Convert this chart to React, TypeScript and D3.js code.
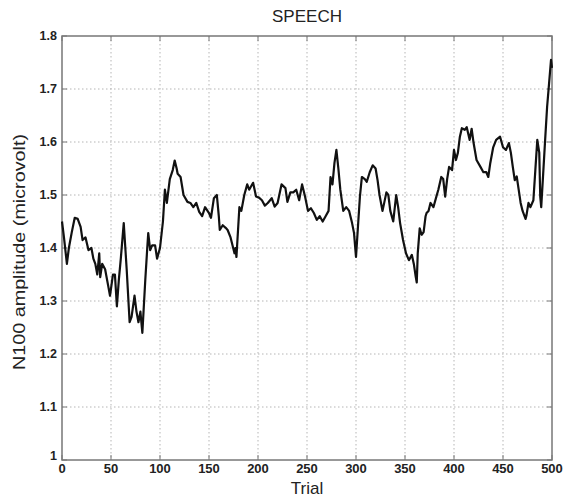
import React from "react";
import * as d3 from "d3";

const trials = [0,2,5,7,10,13,16,19,21,24,27,30,32,34,36,38,39,41,44,47,49,52,54,56,58,60,63,66,69,71,74,76,78,80,82,85,87,88,90,92,95,97,100,103,105,107,110,113,115,117,118,121,124,128,131,134,137,140,143,146,150,152,155,158,160,161,164,167,169,172,176,177,178,181,183,186,189,191,195,198,201,204,207,210,214,217,220,224,228,230,233,236,239,242,245,248,251,254,257,260,263,266,269,272,274,276,278,280,282,284,287,290,293,296,298,300,302,304,306,309,311,314,317,320,322,324,327,329,331,333,335,338,341,343,345,348,351,354,357,359,361,362,363,365,367,369,371,372,374,376,379,382,384,387,389,391,393,395,398,400,402,404,406,408,411,413,416,418,420,423,427,430,433,435,437,440,443,447,450,453,456,458,460,462,464,466,468,470,473,474,476,478,481,483,485,487,488,489,491,493,495,497,499,500];
const values = [1.45,1.42,1.37,1.40,1.43,1.457,1.455,1.44,1.415,1.42,1.396,1.40,1.38,1.37,1.35,1.39,1.345,1.37,1.36,1.33,1.31,1.35,1.35,1.29,1.34,1.38,1.447,1.36,1.26,1.27,1.31,1.28,1.26,1.28,1.24,1.34,1.40,1.428,1.396,1.405,1.405,1.38,1.40,1.45,1.51,1.485,1.53,1.547,1.565,1.55,1.54,1.534,1.50,1.487,1.485,1.477,1.485,1.468,1.46,1.477,1.466,1.457,1.494,1.50,1.46,1.434,1.443,1.438,1.434,1.42,1.39,1.40,1.383,1.477,1.47,1.50,1.52,1.51,1.523,1.497,1.495,1.49,1.48,1.485,1.494,1.478,1.485,1.52,1.513,1.487,1.505,1.505,1.51,1.49,1.52,1.497,1.47,1.475,1.466,1.453,1.46,1.45,1.46,1.47,1.534,1.52,1.56,1.585,1.55,1.51,1.47,1.477,1.47,1.447,1.428,1.383,1.44,1.497,1.534,1.53,1.525,1.543,1.556,1.55,1.528,1.50,1.47,1.487,1.505,1.50,1.47,1.45,1.50,1.477,1.447,1.415,1.39,1.377,1.387,1.37,1.345,1.335,1.39,1.437,1.425,1.43,1.46,1.466,1.47,1.485,1.477,1.497,1.51,1.534,1.53,1.497,1.53,1.553,1.547,1.585,1.566,1.58,1.61,1.626,1.623,1.628,1.604,1.625,1.598,1.566,1.553,1.543,1.543,1.534,1.56,1.59,1.604,1.61,1.59,1.585,1.598,1.58,1.553,1.528,1.535,1.51,1.485,1.47,1.455,1.462,1.485,1.477,1.49,1.547,1.604,1.58,1.497,1.477,1.54,1.604,1.666,1.71,1.755,1.74];
const xTicks = [0,50,100,150,200,250,300,350,400,450,500];
const yTicks = [1,1.1,1.2,1.3,1.4,1.5,1.6,1.7,1.8];

export default function App() {
  const W = 565, H = 498;
  const left = 62, right = 552, top = 36, bottom = 460;
  const x = d3.scaleLinear().domain([0, 500]).range([left, right]);
  const y = d3.scaleLinear().domain([1, 1.8]).range([bottom, top]);
  const pts = trials.map((t, i) => [t, values[i]] as [number, number]);
  const line = d3.line<[number, number]>().x(d => x(d[0])).y(d => y(d[1]));
  const font = "'Liberation Sans', Arial, sans-serif";
  return (
    <svg width={W} height={H} style={{ position: "absolute", left: 0, top: 0, background: "#fff" }}>
      <rect x={0} y={0} width={W} height={H} fill="#fff" />
      {xTicks.slice(1, -1).map(t => (
        <line key={"gx" + t} x1={x(t)} x2={x(t)} y1={top} y2={bottom} stroke="#b5b5b5" strokeWidth={1} strokeDasharray="1.5,2.5" />
      ))}
      {yTicks.slice(1, -1).map(t => (
        <line key={"gy" + t} x1={left} x2={right} y1={y(t)} y2={y(t)} stroke="#b5b5b5" strokeWidth={1} strokeDasharray="1.5,2.5" />
      ))}
      {xTicks.map(t => (
        <g key={"tx" + t}>
          <line x1={x(t)} x2={x(t)} y1={bottom} y2={bottom - 5} stroke="#777" />
          <line x1={x(t)} x2={x(t)} y1={top} y2={top + 5} stroke="#777" />
          <text x={x(t)} y={bottom + 13} textAnchor="middle" fontFamily={font} fontSize={13} fontWeight="bold" fill="#222">{t}</text>
        </g>
      ))}
      {yTicks.map(t => (
        <g key={"ty" + t}>
          <line x1={left} x2={left + 5} y1={y(t)} y2={y(t)} stroke="#777" />
          <line x1={right} x2={right - 5} y1={y(t)} y2={y(t)} stroke="#777" />
          <text x={left - 5} y={y(t) + (t === 1 ? 0 : 4)} textAnchor="end" fontFamily={font} fontSize={12.5} fontWeight="bold" fill="#222">{d3.format("")(+t.toFixed(1))}</text>
        </g>
      ))}
      <rect x={left} y={top} width={right - left} height={bottom - top} fill="none" stroke="#777" strokeWidth={1.5} />
      <path d={line(pts) || ""} fill="none" stroke="#111" strokeWidth={2.2} strokeLinejoin="round" />
      <text x={(left + right) / 2} y={22} textAnchor="middle" fontFamily={font} fontSize={17} fill="#222">SPEECH</text>
      <text x={(left + right) / 2} y={494} textAnchor="middle" fontFamily={font} fontSize={17} fill="#222">Trial</text>
      <text transform={`translate(25,${(top + bottom) / 2 + 4}) rotate(-90)`} textAnchor="middle" fontFamily={font} fontSize={16} fill="#222" textLength={236} lengthAdjust="spacingAndGlyphs">N100 amplitude (microvolt)</text>
    </svg>
  );
}
